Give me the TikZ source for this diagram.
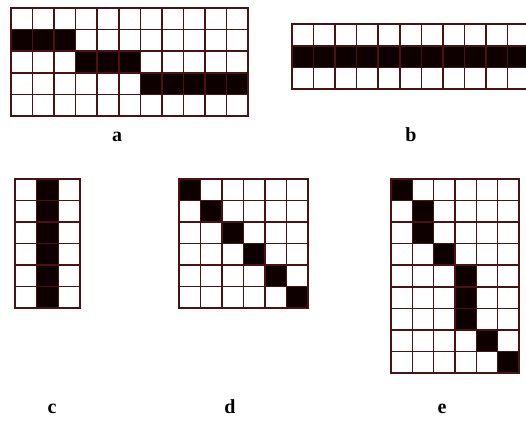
\documentclass[tikz,border=0pt]{standalone}
\usepackage{fontspec}
\setmainfont{Liberation Serif}
\definecolor{gridline}{RGB}{75,18,18}
\definecolor{cellfill}{RGB}{14,0,0}
\newcommand\pixgrid[7]{%
  \begin{scope}[shift={(#1,#2)}, x=#3*0.75pt, y=-#4*0.75pt]
    \foreach \c/\r in {#7} \fill[cellfill] (\c,\r) rectangle ++(1,1);
    \foreach \i in {0,...,#5} \draw[gl] (\i,0) -- (\i,#6);
    \foreach \j in {0,...,#6} \draw[gl] (0,\j) -- (#5,\j);
  \end{scope}}
\begin{document}
\begin{tikzpicture}[x=0.75pt,y=-0.75pt,
  gl/.style={draw=gridline,line width=1.2pt,line cap=rect},
  lab/.style={font=\bfseries\fontsize{15}{15}\selectfont,anchor=base,inner sep=0pt}]
\useasboundingbox (0,0) rectangle (526,421);
\fill[white] (0,0) rectangle (526,421);
\begin{scope}
\clip (0,0) rectangle (526,421);
% a
\pixgrid{11}{8}{21.55}{21.6}{11}{5}{0/1,1/1,2/1,3/2,4/2,5/2,6/3,7/3,8/3,9/3,10/3}
% b
\pixgrid{292}{24}{21.55}{21.7}{11}{3}{0/1,1/1,2/1,3/1,4/1,5/1,6/1,7/1,8/1,9/1,10/1}
% c
\pixgrid{15}{179}{21.67}{21.5}{3}{6}{1/0,1/1,1/2,1/3,1/4,1/5}
% d
\pixgrid{179}{179}{21.5}{21.5}{6}{6}{0/0,1/1,2/2,3/3,4/4,5/5}
% e
\pixgrid{391}{179}{21.33}{21.55}{6}{9}{0/0,1/1,1/2,2/3,3/4,3/5,3/6,4/7,5/8}
\end{scope}
\node[lab] (la) at (117,142) {a};
\node[lab] (lb) at (411,142) {b};
\node[lab] (lc) at (52,413) {c};
\node[lab] (ld) at (230,413) {d};
\node[lab] (le) at (442,413) {e};
\end{tikzpicture}
\end{document}
